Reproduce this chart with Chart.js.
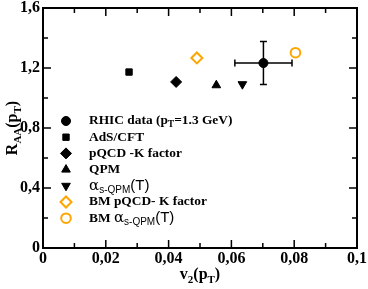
<!DOCTYPE html>
<html>
<head>
<meta charset="utf-8">
<script src="https://cdn.jsdelivr.net/npm/chart.js@4/dist/chart.umd.min.js"></script>
<style>
    html, body { margin: 0; padding: 0; background: #fff; }
    #wrap { width: 368px; height: 289px; position: relative; }
</style>
</head>
<body>
<div id="wrap"><canvas id="chart"></canvas></div>
<script>
// Values
var seriesNames = ['RHIC data', 'AdS/CFT', 'pQCD -K factor', 'QPM', 'alphas-QPM(T)', 'BM pQCD- K factor', 'BM alphas-QPM(T)'];
var v2Values = [0.0702, 0.0274, 0.0424, 0.0552, 0.0635, 0.0490, 0.0804];
var raaValues = [1.233, 1.173, 1.107, 1.085, 1.092, 1.267, 1.302];
var rhicV2Err = 0.0091;
var rhicRaaErr = 0.143;

var pointStyles = ['circle', 'rect', 'rectRot', 'triangle', 'triangle', 'rectRot', 'circle'];
var pointRotations = [0, 0, 0, 0, 180, 0, 0];
var pointRadii = [4.5, 4.5, 5.5, 5, 5, 5.5, 4.8];
var hollow = [false, false, false, false, false, true, true];

var orange = '#ffa500';

// legend text pieces: [text, style]
var legendParts = [
    [['RHIC data (p', 'b'], ['T', 'bsub'], ['=1.3 GeV)', 'b']],
    [['AdS/CFT', 'b']],
    [['pQCD -K factor', 'b']],
    [['QPM', 'b']],
    [['\u03b1', 'r'], ['s-QPM', 'ssub'], ['(T)', 's']],
    [['BM pQCD- K factor', 'b']],
    [['BM ', 'b'], ['\u03b1', 'r'], ['s-QPM', 'ssub'], ['(T)', 's']]
];

function fmtComma(v, digits) {
    var s = v.toFixed(digits);
    s = s.replace(/0+$/, '').replace(/\.$/, '');
    return s.replace('.', ',');
}

var datasets = seriesNames.map(function (name, i) {
    var col = hollow[i] ? orange : '#000';
    return {
        label: name,
        data: [{ x: v2Values[i], y: raaValues[i] }],
        pointStyle: pointStyles[i],
        rotation: pointRotations[i],
        pointRadius: pointRadii[i],
        pointHoverRadius: pointRadii[i],
        backgroundColor: hollow[i] ? 'rgba(0,0,0,0)' : col,
        borderColor: col,
        borderWidth: hollow[i] ? 2 : 1
    };
});

var fontFor = {
    b: 'bold 13.4px "Liberation Serif", serif',
    bsub: 'bold 9.5px "Liberation Serif", serif',
    r: '15px "DejaVu Serif", serif',
    ssub: '10px "Liberation Sans", sans-serif',
    s: '15px "Liberation Sans", sans-serif',
    tb: 'bold 16px "Liberation Serif", serif',
    tsub: 'bold 11px "Liberation Serif", serif'
};

function drawParts(ctx, parts, x, y) {
    parts.forEach(function (p) {
        ctx.font = fontFor[p[1]];
        var dy = (p[1] === 'bsub' || p[1] === 'ssub' || p[1] === 'tsub') ? 4 : 0;
        ctx.fillText(p[0], x, y + dy);
        x += ctx.measureText(p[0]).width;
    });
}

function partsWidth(ctx, parts) {
    var w = 0;
    parts.forEach(function (p) { ctx.font = fontFor[p[1]]; w += ctx.measureText(p[0]).width; });
    return w;
}

var framePlugin = {
    id: 'frame',
    afterDatasetsDraw: function (chart) {
        var ctx = chart.ctx;
        var a = chart.chartArea;
        var xs = chart.scales.x, ys = chart.scales.y;
        ctx.save();

        // error bars on the RHIC point
        var cx = xs.getPixelForValue(v2Values[0]);
        var cy = ys.getPixelForValue(raaValues[0]);
        var xl = xs.getPixelForValue(v2Values[0] - rhicV2Err);
        var xr = xs.getPixelForValue(v2Values[0] + rhicV2Err);
        var yt = ys.getPixelForValue(raaValues[0] + rhicRaaErr);
        var yb = ys.getPixelForValue(raaValues[0] - rhicRaaErr);
        ctx.strokeStyle = '#000';
        ctx.lineWidth = 1.5;
        ctx.beginPath();
        ctx.moveTo(xl, cy); ctx.lineTo(xr, cy);
        ctx.moveTo(cx, yt); ctx.lineTo(cx, yb);
        ctx.moveTo(xl, cy - 3.5); ctx.lineTo(xl, cy + 3.5);
        ctx.moveTo(xr, cy - 3.5); ctx.lineTo(xr, cy + 3.5);
        ctx.moveTo(cx - 3.5, yt); ctx.lineTo(cx + 3.5, yt);
        ctx.moveTo(cx - 3.5, yb); ctx.lineTo(cx + 3.5, yb);
        ctx.stroke();

        // box
        ctx.lineWidth = 2;
        ctx.strokeRect(a.left, a.top, a.right - a.left, a.bottom - a.top);

        // inward ticks on all four sides
        ctx.lineWidth = 1.5;
        ctx.beginPath();
        for (var i = 1; i < 10; i++) {
            var px = xs.getPixelForValue(i * 0.01);
            var len = (i % 2 === 0) ? 8 : 5;
            ctx.moveTo(px, a.bottom); ctx.lineTo(px, a.bottom - len);
            ctx.moveTo(px, a.top); ctx.lineTo(px, a.top + len);
        }
        for (var j = 1; j < 8; j++) {
            var py = ys.getPixelForValue(j * 0.2);
            var lenY = (j % 2 === 0) ? 8 : 5;
            ctx.moveTo(a.left, py); ctx.lineTo(a.left + lenY, py);
            ctx.moveTo(a.right, py); ctx.lineTo(a.right - lenY, py);
        }
        ctx.stroke();

        // legend
        ctx.textBaseline = 'middle';
        ctx.textAlign = 'left';
        chart.data.datasets.forEach(function (ds, k) {
            var ly = 121 + k * 16.2;
            ctx.fillStyle = ds.backgroundColor;
            ctx.strokeStyle = ds.borderColor;
            ctx.lineWidth = ds.borderWidth;
            Chart.helpers.drawPoint(ctx, {
                pointStyle: ds.pointStyle,
                rotation: ds.rotation,
                radius: ds.pointRadius,
                borderWidth: ds.borderWidth
            }, 66, ly);
            ctx.fillStyle = '#000';
            drawParts(ctx, legendParts[k], 89, ly);
        });

        // axis titles
        ctx.fillStyle = '#000';
        ctx.textBaseline = 'alphabetic';
        var xt = [['v', 'tb'], ['2', 'tsub'], ['(p', 'tb'], ['T', 'tsub'], [')', 'tb']];
        var w = partsWidth(ctx, xt);
        drawParts(ctx, xt, (a.left + a.right) / 2 - w / 2, 279);

        var yt2 = [['R', 'tb'], ['AA', 'tsub'], ['(p', 'tb'], ['T', 'tsub'], [')', 'tb']];
        w = partsWidth(ctx, yt2);
        ctx.translate(17, (a.top + a.bottom) / 2);
        ctx.rotate(-Math.PI / 2);
        drawParts(ctx, yt2, -w / 2, 0);
        ctx.restore();
    }
};

function noScalePadding(scale) {
    scale.paddingTop = 0;
    scale.paddingBottom = 0;
    scale.paddingLeft = 0;
    scale.paddingRight = 0;
}

new Chart(document.getElementById('chart'), {
    type: 'scatter',
    data: { datasets: datasets },
    options: {
        responsive: true,
        maintainAspectRatio: false,
        animation: false,
        layout: { padding: { top: 8, right: 11, left: 0, bottom: 0 } },
        plugins: {
            legend: { display: false },
            tooltip: { enabled: false }
        },
        scales: {
            x: {
                type: 'linear',
                min: 0,
                max: 0.1,
                afterFit: function (scale) { scale.height = 41; noScalePadding(scale); },
                grid: { display: false, drawTicks: false },
                border: { display: false },
                ticks: {
                    stepSize: 0.02,
                    padding: 3,
                    color: '#000',
                    font: { family: '"Liberation Serif", serif', size: 16, weight: 'bold', lineHeight: 1 },
                    maxRotation: 0,
                    callback: function (v) { return fmtComma(v, 2); }
                }
            },
            y: {
                type: 'linear',
                min: 0,
                max: 1.6,
                afterFit: function (scale) { scale.width = 43; noScalePadding(scale); },
                grid: { display: false, drawTicks: false },
                border: { display: false },
                ticks: {
                    stepSize: 0.4,
                    padding: 3,
                    color: '#000',
                    font: { family: '"Liberation Serif", serif', size: 16, weight: 'bold', lineHeight: 1 },
                    callback: function (v) { return fmtComma(v, 1); }
                }
            }
        }
    },
    plugins: [framePlugin]
});
</script>
</body>
</html>
